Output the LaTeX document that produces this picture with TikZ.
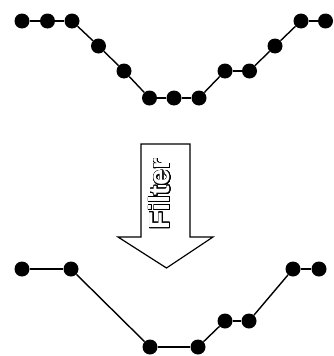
\documentclass[tikz,border=0pt]{standalone}
\usepackage{fontspec}
\newfontfamily\arrowfont{Liberation Sans}
\usepackage{contour}
\contourlength{0.75pt}
\contournumber{32}
\usetikzlibrary{positioning}

\begin{document}
\begin{tikzpicture}[x=1pt, y=-1pt,
        dot/.style={circle, fill=black, inner sep=0pt, minimum size=15pt},
        link/.style={line width=1.4pt},
        arrowbox/.style={draw=black, line width=1.2pt, fill=white, line join=miter}
    ]
        \useasboundingbox (0,0) rectangle (333,356);

        % original signal
        \node[dot] (t1) at (22,21) {};
        \node[dot] (t2) at (47.5,21) {};
        \node[dot] (t3) at (72,21) {};
        \node[dot] (t4) at (98.5,46) {};
        \node[dot] (t5) at (124,71) {};
        \node[dot] (t6) at (149.5,98) {};
        \node[dot] (t7) at (174,98) {};
        \node[dot] (t8) at (199,98) {};
        \node[dot] (t9) at (225,71) {};
        \node[dot] (t10) at (249.5,71) {};
        \node[dot] (t11) at (275,46) {};
        \node[dot] (t12) at (301,21) {};
        \node[dot] (t13) at (325.5,21) {};
        \foreach \i [remember=\i as \j (initially 1)] in {2,...,13}
            \draw[link] (t\j) -- (t\i);

        % filter arrow
        \draw[arrowbox] (141,144) -- (190,144) -- (190,237) -- (213,237)
            -- (166.5,268) -- (118,237) -- (141,237) -- cycle;
        \node[rotate=90, inner sep=0pt, font=\arrowfont\bfseries\fontsize{29}{29}\selectfont]
            (filt) at (160,194) {\contour{black}{\textcolor{white}{Filter}}};

        % filtered signal
        \node[dot] (b1) at (22,269) {};
        \node[dot] (b2) at (71,269) {};
        \node[dot] (b3) at (150,347) {};
        \node[dot] (b4) at (198,347) {};
        \node[dot] (b5) at (225,321) {};
        \node[dot] (b6) at (249,321) {};
        \node[dot] (b7) at (293,269) {};
        \node[dot] (b8) at (319,269) {};
        \foreach \i [remember=\i as \j (initially 1)] in {2,...,8}
            \draw[link] (b\j) -- (b\i);
    \end{tikzpicture}
\end{document}
